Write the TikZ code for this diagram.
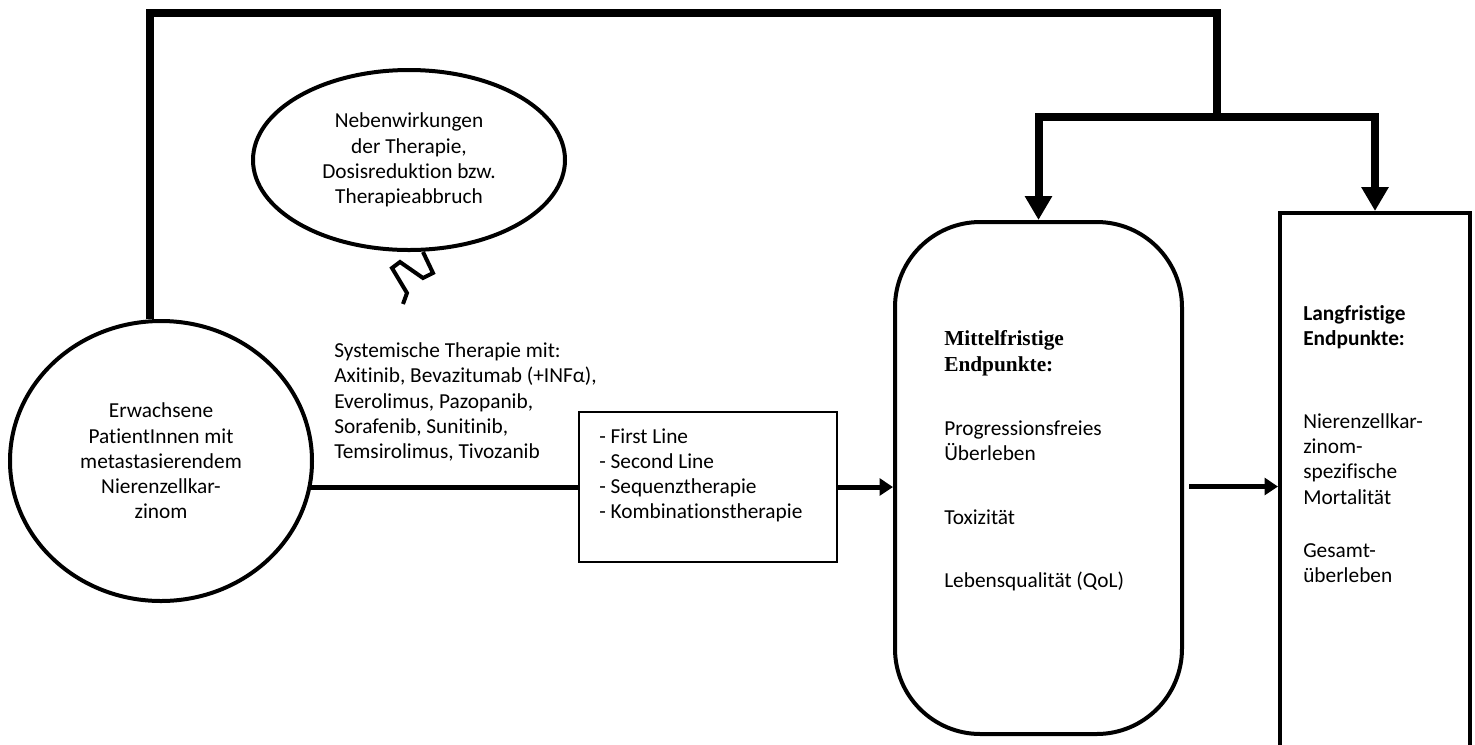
\documentclass[tikz,border=0pt]{standalone}
\usepackage{fontspec}
\setmainfont[Ligatures=NoCommon]{Carlito}
\newfontfamily\timesfont{Liberation Serif}
\usetikzlibrary{arrows.meta,calc,shapes.geometric}
\tikzset{
  base/.style={font=\fontsize{16pt}{18.9pt}\selectfont, inner sep=0pt},
  txt/.style={base, align=left, anchor=west},
  ctxt/.style={base, align=center},
  outline/.style={draw, line width=3pt},
  flow/.style={line width=3.75pt},
  flowarr/.style={flow, -{Triangle[length=10pt,width=12.5pt]}},
  fb/.style={line width=6pt},
  fbarr/.style={fb, -{Triangle[length=18pt,width=19.5pt]}},
}
\begin{document}
\begin{tikzpicture}[x=0.75pt,y=-0.75pt]
\useasboundingbox (0,0) rectangle (1475,744);
\clip (0,0) rectangle (1475,744);
\fill[white] (0,0) rectangle (1475,744);

% main nodes
\node[ellipse, outline, ctxt, minimum width=226.5pt, minimum height=210pt] (pat) at (161,461)
  {Erwachsene\\PatientInnen mit\\metastasierendem\\Nierenzellkar-\\zinom};
\node[ellipse, outline, ctxt, minimum width=234pt, minimum height=135pt] (neb) at (409,160)
  {Nebenwirkungen\\der Therapie,\\Dosisreduktion bzw.\\Therapieabbruch};
\node[rectangle, draw, line width=1.1pt, minimum width=193.5pt, minimum height=112.5pt] (tb) at (708,487) {};
\node[txt] (tbtext) at (599,475.5) {- First Line\\- Second Line\\- Sequenztherapie\\- Kombinationstherapie};
\node[txt] (sys) at (334,402) {Systemische Therapie mit:\\Axitinib, Bevazitumab (+INFα),\\Everolimus, Pazopanib,\\Sorafenib, Sunitinib,\\Temsirolimus, Tivozanib};

\node[rectangle, outline, rounded corners=64pt, minimum width=215.25pt, minimum height=384pt] (mid) at (1038.5,478) {};
\node[txt, font=\fontsize{16pt}{19.5pt}\selectfont\timesfont\bfseries] (midh) at (944,353) {Mittelfristige\\Endpunkte:};
\node[txt] (m1) at (944,440.5) {Progressionsfreies\\Überleben};
\node[txt] (m2) at (944,517) {Toxizität};
\node[txt] (m3) at (944,581) {Lebensqualität (QoL)};

\node[rectangle, outline, minimum width=142.5pt, minimum height=410.25pt] (lang) at (1375,486.5) {};
\node[txt, font=\fontsize{16pt}{18.9pt}\selectfont\bfseries] (langh) at (1303,327.5) {Langfristige\\Endpunkte:};
\node[txt] (l1) at (1303,459) {Nierenzellkar-\\zinom-\\spezifische\\Mortalität};
\node[txt] (l2) at (1303,563.5) {Gesamt-\\überleben};

% connectors
\draw[flow] (tb.west) -- ($(tb.west -| pat.east)+(-4,0)$);
\draw[flowarr] (tb.east) -- (tb.east -| mid.west);
\draw[flowarr] ($(mid.east |- lang.west)+(5,0)$) -- (lang.west);

\coordinate (topR) at (1217,13);
\coordinate (split) at (1217,117);
\draw[fb] ([xshift=-8.25pt]pat.north) |- (topR) -- (split);
\draw[fbarr] (split) -| (mid.north);
\draw[fbarr] (split) -| (lang.north);

% zigzag
\draw[line width=3pt] ($(neb.south)+(14,0)$) -- ++(10,21) -- ++(-10,5) -- ++(-23,-16) -- ++(-8,6) -- ++(15,25) -- ++(-4,11);
\end{tikzpicture}
\end{document}
